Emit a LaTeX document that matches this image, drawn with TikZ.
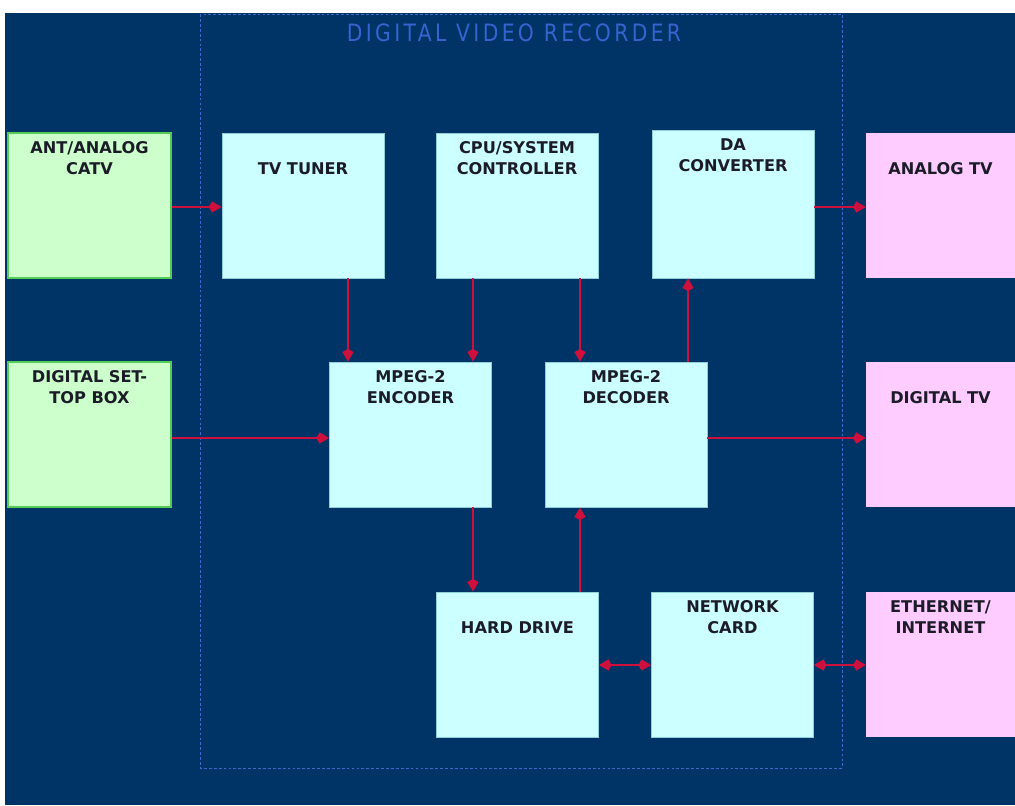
\documentclass[tikz,border=0pt]{standalone}
\usepackage{fontspec}
\setmainfont{DejaVu Sans}
\newfontfamily\titlefont[FakeStretch=0.85,LetterSpace=14]{DejaVu Sans}
\usetikzlibrary{arrows.meta}
\definecolor{dvrbg}{HTML}{003366}
\definecolor{dvrframe}{HTML}{3A6CD0}
\definecolor{titleblue}{HTML}{3563D0}
\definecolor{boxcyan}{HTML}{CCFFFF}
\definecolor{cyanedge}{HTML}{8FD0D8}
\definecolor{boxgreen}{HTML}{CCFFCC}
\definecolor{greenedge}{HTML}{55CC55}
\definecolor{boxpink}{HTML}{FFCCFF}
\definecolor{boxtext}{HTML}{1C1C28}
\definecolor{linkred}{HTML}{D0103C}

\begin{document}
\begin{tikzpicture}[x=0.025cm, y=-0.025cm,
    box/.style={rectangle, inner sep=0pt, minimum width=4.05cm, minimum height=3.625cm},
    dvrbox/.style={box, fill=boxcyan, draw=cyanedge, line width=0.6pt},
    srcbox/.style={box, fill=boxgreen, draw=greenedge, line width=1pt, minimum width=4.075cm},
    sinkbox/.style={box, fill=boxpink, draw=none, minimum width=3.725cm},
    lbl/.style={anchor=north, inner sep=0pt, yshift=-6.5pt, align=center,
        font=\bfseries\fontsize{11.5}{14.5}\selectfont, text=boxtext},
    lbl low/.style={lbl, yshift=-14.5pt},
    title/.style={font=\titlefont\fontsize{17}{19}\selectfont, text=titleblue, inner sep=0pt},
    link/.style={draw=linkred, line width=1.5pt, -{Kite[length=9pt,width=8pt]}},
    duplex/.style={link, {Kite[length=9pt,width=8pt]}-{Kite[length=9pt,width=8pt]}}
]
    % page and frame
    \useasboundingbox (0,0) rectangle (1015,805);
    \fill[white] (0,0) rectangle (1015,805);
    \fill[dvrbg] (5,13) rectangle (1015,805);
    \draw[dvrframe, line width=0.7pt, dash pattern=on 2pt off 1.5pt] (200,14) rectangle (842,768);
    \node[title, anchor=base] (title) at (514,41) {DIGITAL VIDEO RECORDER};

    % sources
    \node[srcbox, label={[lbl]north:ANT/ANALOG\\CATV}] (ant) at (89.5,205.5) {};
    \node[srcbox, label={[lbl]north:DIGITAL SET-\\TOP BOX}] (stb) at (89.5,434.5) {};

    % recorder blocks
    \node[dvrbox, label={[lbl low]north:TV TUNER}] (tuner) at (303,205.5) {};
    \node[dvrbox, label={[lbl]north:CPU/SYSTEM\\CONTROLLER}] (cpu) at (517,205.5) {};
    \node[dvrbox, minimum height=3.7cm, label={[lbl]north:DA\\CONVERTER}] (dac) at (733,204) {};
    \node[dvrbox, label={[lbl]north:MPEG-2\\ENCODER}] (enc) at (410.5,434.5) {};
    \node[dvrbox, label={[lbl]north:MPEG-2\\DECODER}] (dec) at (626,434.5) {};
    \node[dvrbox, label={[lbl low]north:HARD DRIVE}] (hdd) at (517.5,664.5) {};
    \node[dvrbox, label={[lbl]north:NETWORK\\CARD}] (nic) at (732.5,664.5) {};

    % outputs
    \node[sinkbox, label={[lbl low]north:ANALOG TV}] (atv) at (940.5,205.5) {};
    \node[sinkbox, label={[lbl low]north:DIGITAL TV}] (dtv) at (940.5,434.5) {};
    \node[sinkbox, label={[lbl]north:ETHERNET/\\INTERNET}] (eth) at (940.5,664.5) {};

    % rows and columns of the links
    \coordinate (row1) at (0,207);
    \coordinate (row2) at (0,438);
    \coordinate (row3) at (0,665);
    \coordinate (col1) at (348,0);
    \coordinate (col2) at (473,0);
    \coordinate (col3) at (580,0);
    \coordinate (col4) at (688,0);

    % links
    \draw[link] (ant.east |- row1) -- (tuner.west |- row1);
    \draw[link] (stb.east |- row2) -- (enc.west |- row2);
    \draw[link] (dac.east |- row1) -- (atv.west |- row1);
    \draw[link] (dec.east |- row2) -- (dtv.west |- row2);
    \draw[link] (tuner.south -| col1) -- (enc.north -| col1);
    \draw[link] (cpu.south -| col2) -- (enc.north -| col2);
    \draw[link] (cpu.south -| col3) -- (dec.north -| col3);
    \draw[link] (dec.north -| col4) -- (dac.south -| col4);
    \draw[link] (enc.south -| col2) -- (hdd.north -| col2);
    \draw[link] (hdd.north -| col3) -- (dec.south -| col3);
    \draw[duplex] (hdd.east |- row3) -- (nic.west |- row3);
    \draw[duplex] (nic.east |- row3) -- (eth.west |- row3);
\end{tikzpicture}
\end{document}
